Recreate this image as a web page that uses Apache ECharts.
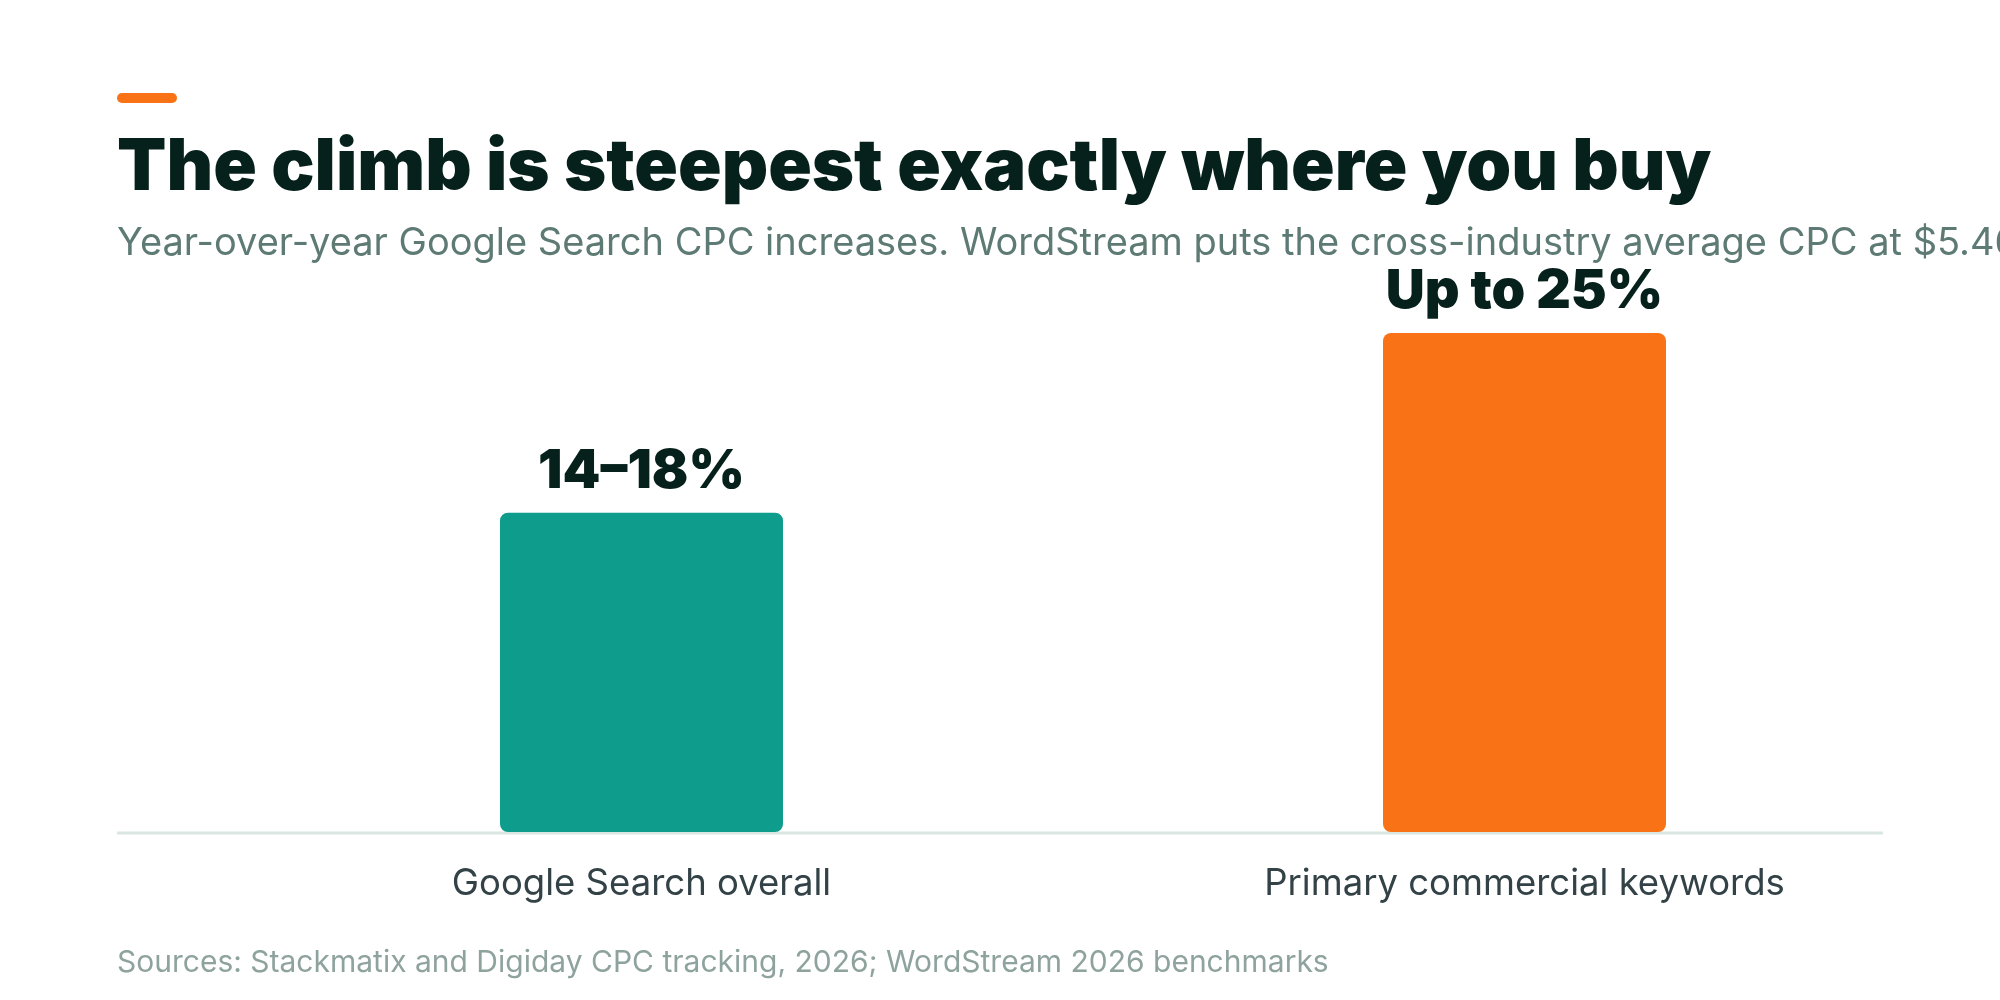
<!DOCTYPE html>
<html>
<head>
    <meta charset="utf-8" />
    <title>CPC increases</title>
    <style>
    html, body { margin: 0; padding: 0; background: #fff; }
    #chart { width: 2000px; height: 1000px; }
    </style>
    <script src="https://cdn.jsdelivr.net/npm/echarts@6/dist/echarts.min.js"></script>
</head>
<body>
    <div id="chart"></div>
    <script>
    // chart data
    var categories = ['Google Search overall', 'Primary commercial keywords'];
    var values = [16, 25];
    var valueLabels = ['14–18%', 'Up to 25%'];
    var barColors = ['#0e9c8d', '#f97316'];

    var titleText = 'The climb is steepest exactly where you buy';
    var subtitleText = 'Year-over-year Google Search CPC increases. WordStream puts the cross-industry average CPC at $5.46 across industries in 2026.';
    var sourceText = 'Sources: Stackmatix and Digiday CPC tracking, 2026; WordStream 2026 benchmarks';

    var chart = echarts.init(document.getElementById('chart'));

    var option = {
        backgroundColor: '#ffffff',
        animation: false,
        title: [{
            text: titleText,
            left: 112,
            top: 123,
            textStyle: {
                fontFamily: 'Inter',
                fontWeight: 900,
                fontSize: 72,
                lineHeight: 80,
                color: '#06201b'
            }
        }, {
            text: subtitleText,
            left: 112,
            top: 216,
            textStyle: {
                fontFamily: 'Inter',
                fontWeight: 400,
                fontSize: 38,
                lineHeight: 46,
                color: '#5e7a74'
            }
        }, {
            text: sourceText,
            left: 112,
            top: 940,
            textStyle: {
                fontFamily: 'Inter',
                fontWeight: 400,
                fontSize: 30,
                lineHeight: 36,
                color: '#8fa39e'
            }
        }],
        graphic: [{
            type: 'rect',
            z: 0,
            shape: { x: 117, y: 93, width: 60, height: 10, r: 5 },
            style: { fill: '#f97316' }
        }, {
            type: 'line',
            z: 0,
            shape: { x1: 117, y1: 833, x2: 1883, y2: 833 },
            style: { stroke: '#d9e6e2', lineWidth: 3 }
        }],
        grid: {
            left: 200,
            right: 34,
            top: 333,
            bottom: 168,
            containLabel: false
        },
        xAxis: {
            type: 'category',
            data: categories,
            axisLine: { show: false },
            axisTick: { show: false },
            axisLabel: {
                margin: 34,
                fontFamily: 'Inter',
                fontSize: 36.5,
                color: '#334247'
            }
        },
        yAxis: {
            type: 'value',
            min: 0,
            max: 25,
            show: false,
            splitLine: { show: false }
        },
        series: [{
            type: 'bar',
            z: 5,
            barWidth: 283,
            data: values.map(function(v, i) {
                return {
                    value: v,
                    itemStyle: { color: barColors[i], borderRadius: 8 }
                };
            }),
            label: {
                show: true,
                position: 'top',
                distance: 14,
                fontFamily: 'Inter',
                fontWeight: 900,
                fontSize: 54,
                letterSpacing: -1,
                color: '#06201b',
                formatter: function(p) {
                    return valueLabels[p.dataIndex];
                }
            }
        }]
    };

    chart.setOption(option);
    </script>
</body>
</html>
